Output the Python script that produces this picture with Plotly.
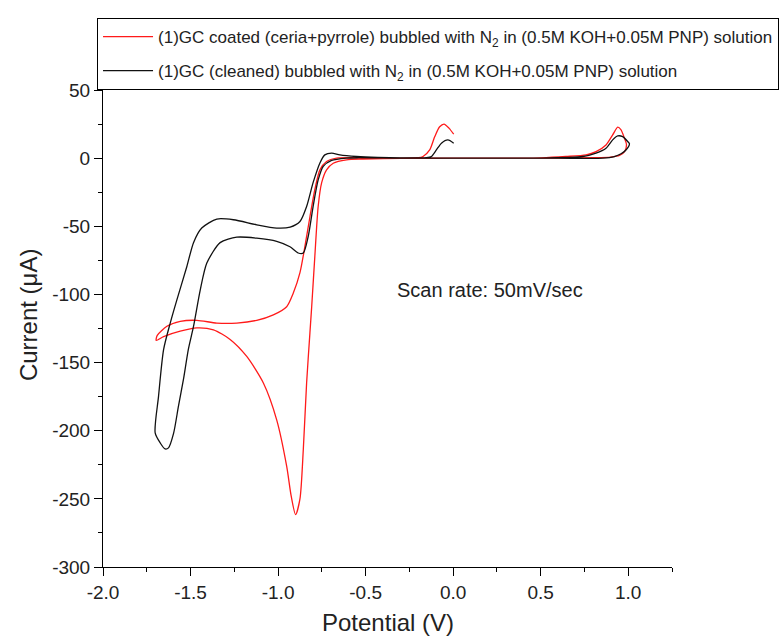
import plotly.graph_objects as go

# Red: GC coated (ceria+pyrrole)
red_x = [0.0, 0.3, 0.5, 0.645, 0.759, 0.816, 0.873, 0.911, 0.940, 0.959, 0.978, 0.99, 0.98, 0.95, 0.9, 0.8, 0.6, 0.3, 0.0,
         -0.3, -0.514, -0.609, -0.685, -0.723, -0.751, -0.771, -0.79, -0.808, -0.818, -0.837, -0.856, -0.875, -0.900,
         -0.925, -0.951, -1.008, -1.084, -1.179, -1.274, -1.369, -1.464, -1.559, -1.654, -1.696, -1.69, -1.635, -1.559,
         -1.464, -1.35, -1.236, -1.122, -1.027, -0.951, -0.913, -0.875, -0.847, -0.818, -0.79, -0.761, -0.723,
         -0.666, -0.4, -0.2, -0.172, -0.134, -0.105, -0.077, -0.052, -0.024, 0.003]
red_y = [0.0, 0.0, 0.2, 1.2, 2.4, 4.8, 9.7, 17.0, 22.7, 20.7, 14.7, 10.0, 5.0, 2.0, 0.8, 0.3, 0.0, 0.0, 0.0,
         -0.2, -0.7, -1.2, -3.7, -8.6, -18.0, -35.5, -72.0, -109.0, -128.0, -165.0, -214.0, -250.0, -261.6,
         -248.0, -226.0, -192.0, -165.0, -145.5, -133.0, -126.0, -124.6, -127.0, -131.0, -133.7, -130.0, -123.4, -119.8,
         -119.0, -121.0, -121.0, -119.0, -115.0, -109.0, -99.0, -84.0, -65.0, -43.0, -23.0, -8.6, -2.5,
         0.0, 0.0, 0.3, 1.2, 6.0, 15.8, 23.0, 25.0, 22.0, 17.6]

# Black: GC cleaned
blk_x = [0.0, 0.3, 0.5, 0.74, 0.816, 0.873, 0.911, 0.940, 0.968, 0.997, 1.007, 0.987, 0.959, 0.921, 0.854, 0.6,
         0.3, 0.0, -0.3, -0.55, -0.609, -0.694, -0.742, -0.771, -0.80, -0.828, -0.856, -0.885, -0.932, -1.008,
         -1.122, -1.236, -1.331, -1.407, -1.445, -1.483, -1.512, -1.54, -1.569, -1.597, -1.626, -1.645, -1.673,
         -1.702, -1.683, -1.654, -1.616, -1.578, -1.521, -1.483, -1.436, -1.35, -1.255, -1.122, -1.008, -0.931,
         -0.875, -0.837, -0.80, -0.761, -0.733, -0.694, -0.647, -0.552, -0.43, -0.3, -0.153, -0.124, -0.096,
         -0.067, -0.03, 0.003]
blk_y = [0.0, 0.0, 0.0, 1.2, 3.7, 7.3, 13.4, 16.3, 15.8, 12.2, 10.5, 6.0, 3.2, 1.2, 0.0, 0.0,
         0.0, 0.0, 0.0, 0.3, 0.0, -1.7, -6.0, -16.0, -35.5, -57.5, -69.6, -69.6, -65.0, -61.0,
         -58.7, -58.0, -62.0, -77.0, -97.0, -123.5, -140.0, -162.0, -182.0, -202.0, -212.6, -213.4, -209.0,
         -201.6, -175.0, -140.5, -121.0, -104.0, -79.5, -62.0, -51.3, -44.7, -45.2, -48.9, -51.3, -50.6,
         -46.5, -35.5, -18.0, -3.5, 2.4, 3.7, 2.4, 1.2, 0.5, 0.2, 0.4, 1.2, 6.0,
         11.0, 13.4, 11.0]

red_name = "(1)GC coated (ceria+pyrrole) bubbled with N<sub>2</sub> in (0.5M KOH+0.05M PNP) solution"
blk_name = "(1)GC (cleaned) bubbled with N<sub>2</sub> in (0.5M KOH+0.05M PNP) solution"

x_ticks = [-2.0, -1.5, -1.0, -0.5, 0.0, 0.5, 1.0]
x_ticktext = ["-2.0", "-1.5", "-1.0", "-0.5", "0.0", "0.5", "1.0"]
x_minor = [-1.75, -1.25, -0.75, -0.25, 0.25, 0.75, 1.25]
y_ticks = [50, 0, -50, -100, -150, -200, -250, -300]
y_ticktext = ["50", "0", "-50", "-100", "-150", "-200", "-250", "-300"]
y_minor = [25, -25, -75, -125, -175, -225, -275]

FONT = "Liberation Sans, Arial, sans-serif"
TXT = "#222222"

fig = go.Figure()
fig.add_trace(go.Scatter(x=red_x, y=red_y, mode="lines", name=red_name, legendrank=1, legendgroup="r",
                         line=dict(color="#ff1a1a", width=1.3, shape="spline", smoothing=0.7)))
fig.add_trace(go.Scatter(x=blk_x, y=blk_y, mode="lines", name=blk_name, legendrank=2, legendgroup="b",
                         line=dict(color="#111111", width=1.3, shape="spline", smoothing=0.7)))

fig.add_annotation(x=-0.33, y=-97, text="Scan rate: 50mV/sec", showarrow=False,
                   xanchor="left", yanchor="middle", font=dict(size=20, color=TXT, family=FONT))

fig.add_annotation(xref="paper", yref="paper", x=-0.132, y=0.53, text="Current (μA)",
                   textangle=-90, showarrow=False, xanchor="center", yanchor="middle",
                   font=dict(size=24, color=TXT, family=FONT))
fig.add_annotation(xref="paper", yref="paper", x=0.5, y=-0.1174, text="Potential (V)",
                   showarrow=False, xanchor="center", yanchor="middle",
                   font=dict(size=24, color=TXT, family=FONT))

fig.update_layout(
    width=784, height=639,
    margin=dict(l=103, r=112, t=90, b=72),
    paper_bgcolor="white", plot_bgcolor="white",
    font=dict(family=FONT, color=TXT),
    showlegend=True,
    legend=dict(x=-0.0105, y=1.0, xanchor="left", yanchor="bottom",
                bordercolor="black", borderwidth=1, bgcolor="white",
                traceorder="grouped", tracegroupgap=9, itemwidth=50,
                font=dict(size=17, family=FONT, color=TXT)),
    xaxis=dict(range=[-2.0, 1.25], tickmode="array", tickvals=x_ticks, ticktext=x_ticktext,
               ticks="outside", ticklen=8, tickwidth=1, tickcolor="black",
               showline=True, linecolor="black", linewidth=1, mirror=False,
               showgrid=False, zeroline=False, automargin=False,
               tickfont=dict(size=19, family=FONT, color=TXT),
               minor=dict(tickmode="array", tickvals=x_minor, ticks="outside", ticklen=4, tickcolor="black")),
    yaxis=dict(range=[-300, 50], tickmode="array", tickvals=y_ticks, ticktext=y_ticktext,
               ticks="outside", ticklen=8, tickwidth=1, tickcolor="black",
               showline=True, linecolor="black", linewidth=1, mirror=False,
               showgrid=False, zeroline=False, automargin=False,
               tickfont=dict(size=19, family=FONT, color=TXT),
               minor=dict(tickmode="array", tickvals=y_minor, ticks="outside", ticklen=4, tickcolor="black")),
)

fig.write_html("out.html")
